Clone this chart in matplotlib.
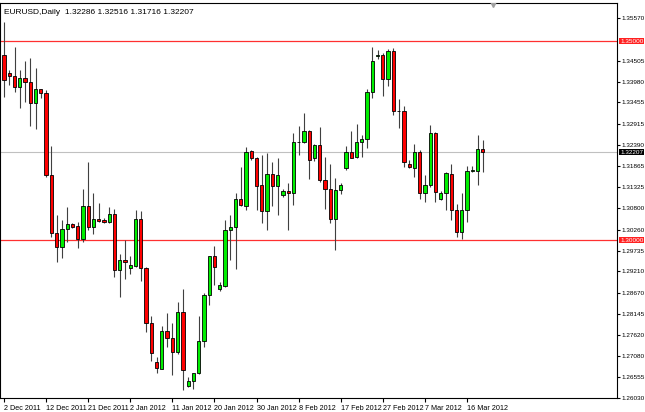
import matplotlib
matplotlib.use("Agg")
import matplotlib.pyplot as plt
from matplotlib.patches import Rectangle

plt.rcParams['font.family'] = ['Liberation Sans Narrow', 'Liberation Sans', 'DejaVu Sans']

opens = [1.3465,1.3419,1.3413,1.3384,1.3407,1.3397,1.3344,1.3379,1.3369,1.3163,1.3018,1.2982,1.3027,1.3041,1.3034,1.3003,1.3085,1.3033,1.3052,1.3051,
 1.3045,1.3066,1.2924,1.2951,1.2930,1.2934,1.3052,1.2930,1.2791,1.2693,1.2676,1.2771,1.2753,1.2718,1.2819,1.2634,1.2646,1.2665,1.2745,1.2862,
 1.2960,1.2877,1.2884,1.3024,1.3033,1.3104,1.3085,1.3224,1.3205,1.3138,1.3073,1.3167,1.3135,1.3113,1.3124,1.3117,1.3245,1.3247,1.3274,1.3207,
 1.3239,1.3152,1.3127,1.3054,1.3125,1.3180,1.3220,1.3208,1.3245,1.3253,1.3371,1.3463,1.3465,1.3405,1.3476,1.3324,1.3324,1.3191,1.3181,1.3222,
 1.3118,1.3139,1.3270,1.3102,1.3119,1.3167,1.3076,1.3019,1.3076,1.3174,1.3174,1.32286]
closes = [1.3402,1.3413,1.3384,1.3407,1.3397,1.3344,1.3380,1.3369,1.3163,1.3018,1.2982,1.3027,1.3039,1.3033,1.3003,1.3085,1.3033,1.3052,1.3047,1.3045,
 1.3066,1.2924,1.2951,1.2945,1.2936,1.3052,1.2930,1.2791,1.2716,1.2678,1.2771,1.2753,1.2718,1.2819,1.2674,1.2646,1.2665,1.2745,1.2863,1.2960,
 1.2932,1.2886,1.3024,1.3033,1.3104,1.3087,1.3222,1.3205,1.3135,1.3073,1.3167,1.3135,1.3163,1.3123,1.3117,1.3245,1.3246,1.3274,1.3201,1.3239,
 1.3152,1.3127,1.3054,1.3125,1.3139,1.3220,1.3207,1.3245,1.3253,1.3371,1.3449,1.3464,1.3405,1.3476,1.3323,1.3325,1.3195,1.3184,1.3222,1.3118,
 1.3139,1.3270,1.3121,1.3119,1.3169,1.3076,1.3019,1.3076,1.3174,1.3175,1.3228,1.32207]
highs = [1.3547,1.3428,1.3485,1.3428,1.3451,1.3457,1.3432,1.3379,1.3376,1.3236,1.3062,1.3050,1.3082,1.3043,1.3045,1.3129,1.3195,1.3117,1.3094,1.3056,
 1.3082,1.3079,1.2966,1.2999,1.2961,1.3076,1.3072,1.2932,1.2810,1.2705,1.2785,1.2816,1.2791,1.2844,1.2877,1.2655,1.2667,1.2808,1.2866,1.2961,
 1.2985,1.2894,1.3051,1.3062,1.3118,1.3184,1.3234,1.3226,1.3209,1.3213,1.3218,1.3195,1.3205,1.3129,1.3142,1.3268,1.3286,1.3320,1.3276,1.3240,
 1.3285,1.3209,1.3192,1.3157,1.3142,1.3236,1.3275,1.3292,1.3264,1.3379,1.3485,1.3478,1.3470,1.3480,1.3482,1.3354,1.3337,1.3202,1.3240,1.3226,
 1.3163,1.3289,1.3272,1.3124,1.3171,1.3191,1.3090,1.3118,1.3187,1.3187,1.3264,1.32516]
lows = [1.3360,1.3390,1.3373,1.3331,1.3348,1.3286,1.3278,1.3356,1.3159,1.3008,1.2945,1.2956,1.2995,1.3029,1.2981,1.2995,1.3024,1.3016,1.3045,1.3043,
 1.3043,1.2907,1.2856,1.2903,1.2915,1.2932,1.2898,1.2768,1.2695,1.2665,1.2676,1.2730,1.2661,1.2714,1.2623,1.2631,1.2625,1.2663,1.2732,1.2837,
 1.2886,1.2873,1.2882,1.2951,1.2928,1.3085,1.3075,1.3202,1.3075,1.3043,1.3024,1.3085,1.3064,1.3108,1.3024,1.3087,1.3213,1.3244,1.3153,1.3199,
 1.3146,1.3079,1.3043,1.2974,1.3115,1.3177,1.3205,1.3206,1.3209,1.3230,1.3356,1.3454,1.3363,1.3386,1.3314,1.3281,1.3184,1.3180,1.3159,1.3102,
 1.3096,1.3134,1.3096,1.3100,1.3076,1.3050,1.3008,1.3002,1.3045,1.3171,1.3139,1.31716]

date_labels = ["2 Dec 2011","12 Dec 2011","21 Dec 2011","2 Jan 2012","11 Jan 2012","20 Jan 2012",
               "30 Jan 2012","8 Feb 2012","17 Feb 2012","27 Feb 2012","7 Mar 2012","16 Mar 2012"]
date_idx = [0,8,16,24,32,40,48,56,64,72,80,88]
price_ticks = [1.35570,1.34505,1.33980,1.33455,1.32915,1.32390,1.31865,1.31325,1.30800,
               1.30260,1.29735,1.29210,1.28670,1.28145,1.27620,1.27080,1.26555,1.26030]
levels = [1.35000, 1.30000]
last_price = 1.32207
title = "EURUSD,Daily  1.32286 1.32516 1.31716 1.32207"

fig = plt.figure(figsize=(6.45,4.12), dpi=100)
ax = fig.add_axes([0/645, 14/412, 617/645, 395/412])
ax.set_xlim(-0.76, 116.5)
ax.set_ylim(1.26030, 1.35955)

for lv in levels:
    ax.axhline(lv, color="#ff3030", lw=0.9, zorder=1)
ax.axhline(last_price, color="#c0c0c0", lw=0.8, zorder=1)

w = 0.62
for i,(o,c,h,l) in enumerate(zip(opens,closes,highs,lows)):
    ax.vlines(i, l, h, color="#404040", lw=0.8, zorder=2)
    col = "#00ee00" if c >= o else "#ff0000"
    lo, hi = min(o,c), max(o,c)
    ax.add_patch(Rectangle((i-w/2, lo), w, max(hi-lo, 0.00005), facecolor=col,
                           edgecolor="black", lw=0.6, zorder=3))

ax.yaxis.tick_right()
ax.set_yticks(price_ticks)
ax.set_yticklabels([f"{p:.5f}" for p in price_ticks], fontsize=4.6)
ax.tick_params(axis="y", length=2, pad=1.2)
ax.set_xticks(date_idx)
ax.set_xticklabels(date_labels, fontsize=5.2, ha="left")
ax.tick_params(axis="x", length=3, pad=2)
for s in ax.spines.values():
    s.set_linewidth(0.8)

for lv, fc in [(1.35,"#ff2020"),(1.30,"#ff2020"),(last_price,"black")]:
    ax.text(1.005, lv, f"{lv:.5f}", transform=ax.get_yaxis_transform(), fontsize=4.6,
            color="white", va="center", ha="left",
            bbox=dict(boxstyle="square,pad=0.1", fc=fc, ec="none"))

ax.text(0.006, 0.985, title, transform=ax.transAxes, fontsize=6, va="top", ha="left")
ax.plot([93.0], [1.3592], marker="v", color="#a0a0a0", ms=4, zorder=4)

fig.savefig("out.png", dpi=100)
